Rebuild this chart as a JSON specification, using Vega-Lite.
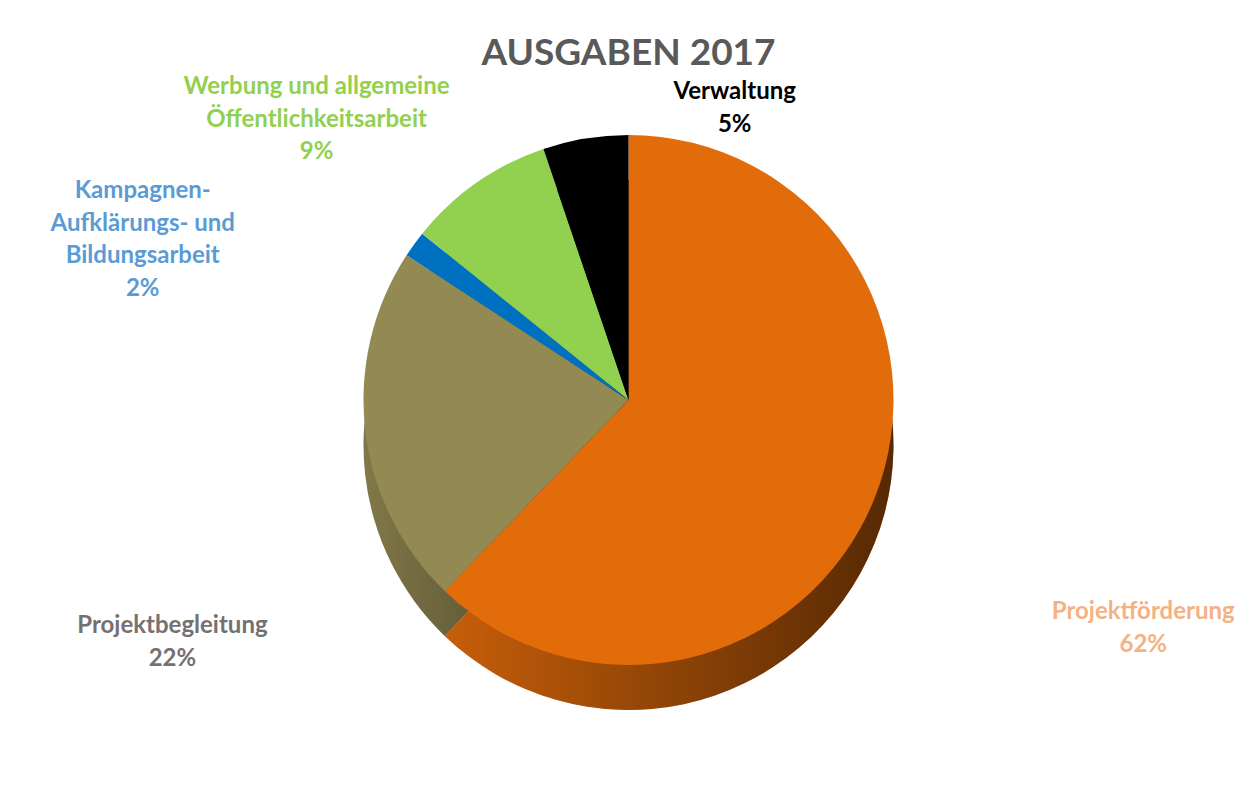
{
  "$schema": "https://vega.github.io/schema/vega-lite/v6.json",
  "width": 1257,
  "height": 660,
  "autosize": {"type": "none"},
  "padding": {"top": 70, "bottom": 70, "left": 0, "right": 2},
  "background": "white",
  "title": {"text": "AUSGABEN 2017", "font": "Lato", "fontSize": 37, "fontWeight": "bold", "color": "#595959", "anchor": "middle", "baseline": "alphabetic", "offset": 7, "dy": 39, "frame": "group"},
  "config": {"view": {"stroke": null}},
  "data": {"values": [
    {"category": "Projektförderung", "value": 62.2, "rank": 1, "label": "Projektförderung\n62%"},
    {"category": "Projektbegleitung", "value": 22.0, "rank": 2, "label": "Projektbegleitung\n22%"},
    {"category": "Kampagnen- Aufklärungs- und Bildungsarbeit", "value": 1.6, "rank": 3, "label": "Kampagnen-\nAufklärungs- und\nBildungsarbeit\n2%"},
    {"category": "Werbung und allgemeine Öffentlichkeitsarbeit", "value": 9.0, "rank": 4, "label": "Werbung und allgemeine\nÖffentlichkeitsarbeit\n9%"},
    {"category": "Verwaltung", "value": 5.2, "rank": 5, "label": "Verwaltung\n5%"}
  ]},
  "encoding": {
    "theta": {"field": "value", "type": "quantitative", "stack": true},
    "order": {"field": "rank", "type": "quantitative"}
  },
  "layer": [
    {
      "mark": {"type": "arc", "radius": 265, "yOffset": 45},
      "encoding": {"color": {"field": "category", "type": "nominal", "legend": null,
        "scale": {"domain": ["Projektförderung", "Projektbegleitung", "Kampagnen- Aufklärungs- und Bildungsarbeit", "Werbung und allgemeine Öffentlichkeitsarbeit", "Verwaltung"],
                  "range": ["#E26B0A", "#938953", "#0070C0", "#92D050", "#000000"]}}}
    },
    {
      "mark": {"type": "arc", "radius": 265, "yOffset": 45,
        "fill": {"gradient": "linear", "x1": 0, "y1": 0, "x2": 1, "y2": 0,
          "stops": [{"offset": 0, "color": "rgba(0,0,0,0.12)"}, {"offset": 1, "color": "rgba(0,0,0,0.62)"}]}},
      "encoding": {}
    },
    {
      "mark": {"type": "arc", "radius": 265},
      "encoding": {"color": {"field": "category", "type": "nominal", "legend": null}}
    },
    {
      "mark": {"type": "text", "clip": true, "radius": 555, "dy": 4, "font": "Lato", "fontSize": 24, "fontWeight": "bold", "fill": "#F4B183", "lineBreak": "\n", "lineHeight": 33, "baseline": "middle", "align": "center"},
      "encoding": {"text": {"condition": {"test": "datum.rank === 1", "field": "label", "type": "nominal"}, "value": ""}}
    },
    {
      "mark": {"type": "text", "clip": true, "radius": 456, "dy": 175, "dx": -3, "font": "Lato", "fontSize": 24, "fontWeight": "bold", "fill": "#767171", "lineBreak": "\n", "lineHeight": 33, "baseline": "middle", "align": "center"},
      "encoding": {"text": {"condition": {"test": "datum.rank === 2", "field": "label", "type": "nominal"}, "value": ""}}
    },
    {
      "mark": {"type": "text", "clip": true, "radius": 420, "dx": -146, "dy": 38, "font": "Lato", "fontSize": 24, "fontWeight": "bold", "fill": "#5B9BD5", "lineBreak": "\n", "lineHeight": 32.5, "baseline": "middle", "align": "center"},
      "encoding": {"text": {"condition": {"test": "datum.rank === 3", "field": "label", "type": "nominal"}, "value": ""}}
    },
    {
      "mark": {"type": "text", "clip": true, "radius": 400, "dx": -83, "dy": 15, "font": "Lato", "fontSize": 24, "fontWeight": "bold", "fill": "#92D050", "lineBreak": "\n", "lineHeight": 32.5, "baseline": "middle", "align": "center"},
      "encoding": {"text": {"condition": {"test": "datum.rank === 4", "field": "label", "type": "nominal"}, "value": ""}}
    },
    {
      "mark": {"type": "text", "clip": true, "radius": 300, "dx": 155, "dy": -12, "font": "Lato", "fontSize": 24, "fontWeight": "bold", "fill": "#000000", "lineBreak": "\n", "lineHeight": 33, "baseline": "middle", "align": "center"},
      "encoding": {"text": {"condition": {"test": "datum.rank === 5", "field": "label", "type": "nominal"}, "value": ""}}
    }
  ]
}
